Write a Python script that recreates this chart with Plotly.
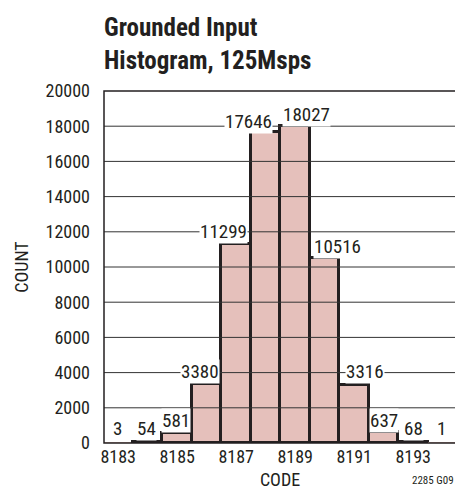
import plotly.graph_objects as go

# ---- data ----
codes = [8183, 8184, 8185, 8186, 8187, 8188, 8189, 8190, 8191, 8192, 8193, 8194]
counts = [3, 54, 581, 3380, 11299, 17646, 18027, 10516, 3316, 637, 68, 1]
x_ticks = [8183, 8185, 8187, 8189, 8191, 8193]
y_ticks = [0, 2000, 4000, 6000, 8000, 10000, 12000, 14000, 16000, 18000, 20000]

# ---- label placement (layout only) ----
label_y = [852, 852, 1307, 4091, 12045, 18295, 18693, 11193, 4091, 1307, 852, 852]
label_dx = [-1, -1, -1, -7, -13, -17, 11, 13, 11, 0, 0, -1]

FONT = "Liberation Sans Narrow, Roboto Condensed, DejaVu Sans Condensed, Arial Narrow, sans-serif"
INK = "#231f20"

line_widths = [0 if c < 10 else 3 for c in counts]

fig = go.Figure()
fig.add_trace(go.Bar(
    x=codes, y=counts, width=1.0,
    marker=dict(color="#e5c0bb", line=dict(color=INK, width=line_widths)),
    hoverinfo="x+y",
))

# grid lines drawn above the bars
shapes = []
for yv in y_ticks[1:-1]:
    shapes.append(dict(type="line", xref="paper", yref="y", x0=0, x1=1, y0=yv, y1=yv,
                       line=dict(color="#333333", width=1), layer="above"))
shapes.append(dict(type="rect", xref="paper", yref="paper", x0=0, x1=1, y0=0, y1=1,
                   line=dict(color=INK, width=1.5), layer="above"))

annotations = []
for c, v, ly, dx in zip(codes, counts, label_y, label_dx):
    annotations.append(dict(x=c, y=ly, xref="x", yref="y", text=str(v), showarrow=False,
                            xshift=dx, bgcolor="white", borderpad=0,
                            font=dict(family=FONT, size=19, color=INK)))
annotations.append(dict(x=1.0, y=0, xref="paper", yref="paper", xanchor="right", yanchor="top",
                        yshift=-29, text="2285 G09", showarrow=False,
                        font=dict(family=FONT, size=11, color=INK)))
# chart title
annotations.append(dict(x=0, y=1, xref="paper", yref="paper", xanchor="left", yanchor="bottom",
                        xshift=-2, yshift=14, align="left", showarrow=False,
                        text="<b>Grounded Input<br>Histogram, 125Msps</b>",
                        font=dict(family=FONT, size=25, color=INK)))

fig.update_layout(
    width=463, height=489,
    margin=dict(l=96, r=15, t=83, b=54, autoexpand=False),
    paper_bgcolor="white", plot_bgcolor="white",
    showlegend=False,
    bargap=0,
    xaxis=dict(range=[8182.52, 8194.45], tickvals=x_ticks, ticktext=[str(t) for t in x_ticks],
               showgrid=False, zeroline=False, ticks="", ticklabelstandoff=1, automargin=False,
               tickfont=dict(family=FONT, size=18, color=INK),
               title=dict(text="CODE", font=dict(family=FONT, size=18, color=INK), standoff=7)),
    yaxis=dict(range=[0, 20000], tickvals=y_ticks, ticktext=[str(t) for t in y_ticks],
               showgrid=False, zeroline=False, ticks="", ticklabelstandoff=13, automargin=False,
               tickfont=dict(family=FONT, size=18, color=INK),
               title=dict(text="COUNT", font=dict(family=FONT, size=18, color=INK), standoff=12)),
    shapes=shapes,
    annotations=annotations,
)

fig.write_html("out.html")
